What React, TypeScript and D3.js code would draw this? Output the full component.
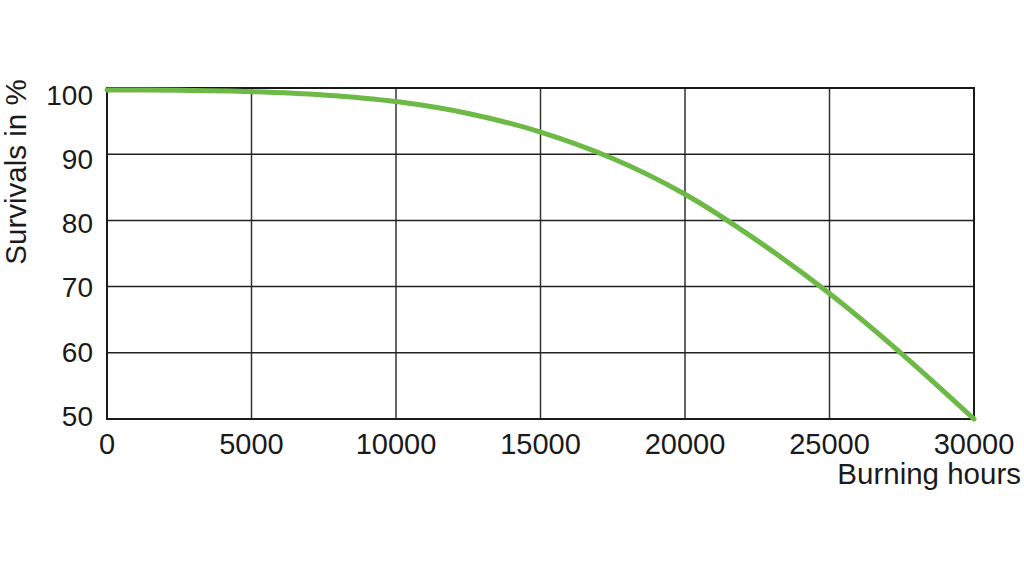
import React from "react";
import * as d3 from "d3";

const hours = [0, 2500, 5000, 7500, 10000, 12500, 15000, 17500, 20000, 22500, 25000, 27500, 30000];
const survivals = [99.7, 99.65, 99.45, 98.95, 97.95, 96.15, 93.35, 89.35, 83.95, 76.95, 68.95, 59.85, 50.0];
const xTicks = [0, 5000, 10000, 15000, 20000, 25000, 30000];
const yTicks = [50, 60, 70, 80, 90, 100];
const xTitle = "Burning hours";
const yTitle = "Survivals in %";

export default function App() {
  const W = 1024, H = 577;
  const x = d3.scaleLinear().domain([0, 30000]).range([107, 974]);
  const y = d3.scaleLinear().domain([50, 100]).range([419, 88]);
  const yLab = d3.scaleLinear().domain([50, 100]).range([416, 95]);
  const pts = hours.map((h, i) => [h, survivals[i]] as [number, number]);
  const line = d3.line<[number, number]>().x(d => x(d[0])).y(d => y(d[1])).curve(d3.curveCatmullRom.alpha(0.5));
  const font = "'Liberation Sans', Arial, sans-serif";
  return (
    <svg width={W} height={H} style={{ position: "absolute", left: 0, top: 0, background: "#fff" }}>
      <rect x={0} y={0} width={W} height={H} fill="#fff" />
      {xTicks.slice(1, -1).map(t => (
        <line key={"gx" + t} x1={x(t)} x2={x(t)} y1={y(50)} y2={y(100)} stroke="#333" strokeWidth={1.5} />
      ))}
      {yTicks.slice(1, -1).map(t => (
        <line key={"gy" + t} x1={x(0)} x2={x(30000)} y1={y(t)} y2={y(t)} stroke="#222" strokeWidth={1.5} />
      ))}
      <rect x={x(0)} y={y(100)} width={x(30000) - x(0)} height={y(50) - y(100)} fill="none" stroke="#1a1a1a" strokeWidth={2} />
      <path d={line(pts) || ""} fill="none" stroke="#6cb945" strokeWidth={5} strokeLinecap="round" />
      {yTicks.map(t => (
        <text key={"yl" + t} x={93} y={yLab(t)} dy="0.35em" textAnchor="end" fontFamily={font} fontSize={28} fill="#1a1a1a">{t}</text>
      ))}
      {xTicks.map(t => (
        <text key={"xl" + t} x={x(t)} y={454} textAnchor="middle" fontFamily={font} fontSize={29} fill="#1a1a1a">{t}</text>
      ))}
      <text x={1021} y={484} textAnchor="end" fontFamily={font} fontSize={29.5} fill="#1a1a1a">{xTitle}</text>
      <text transform={`translate(26,172) rotate(-90)`} textAnchor="middle" fontFamily={font} fontSize={29.5} fill="#1a1a1a">{yTitle}</text>
    </svg>
  );
}
